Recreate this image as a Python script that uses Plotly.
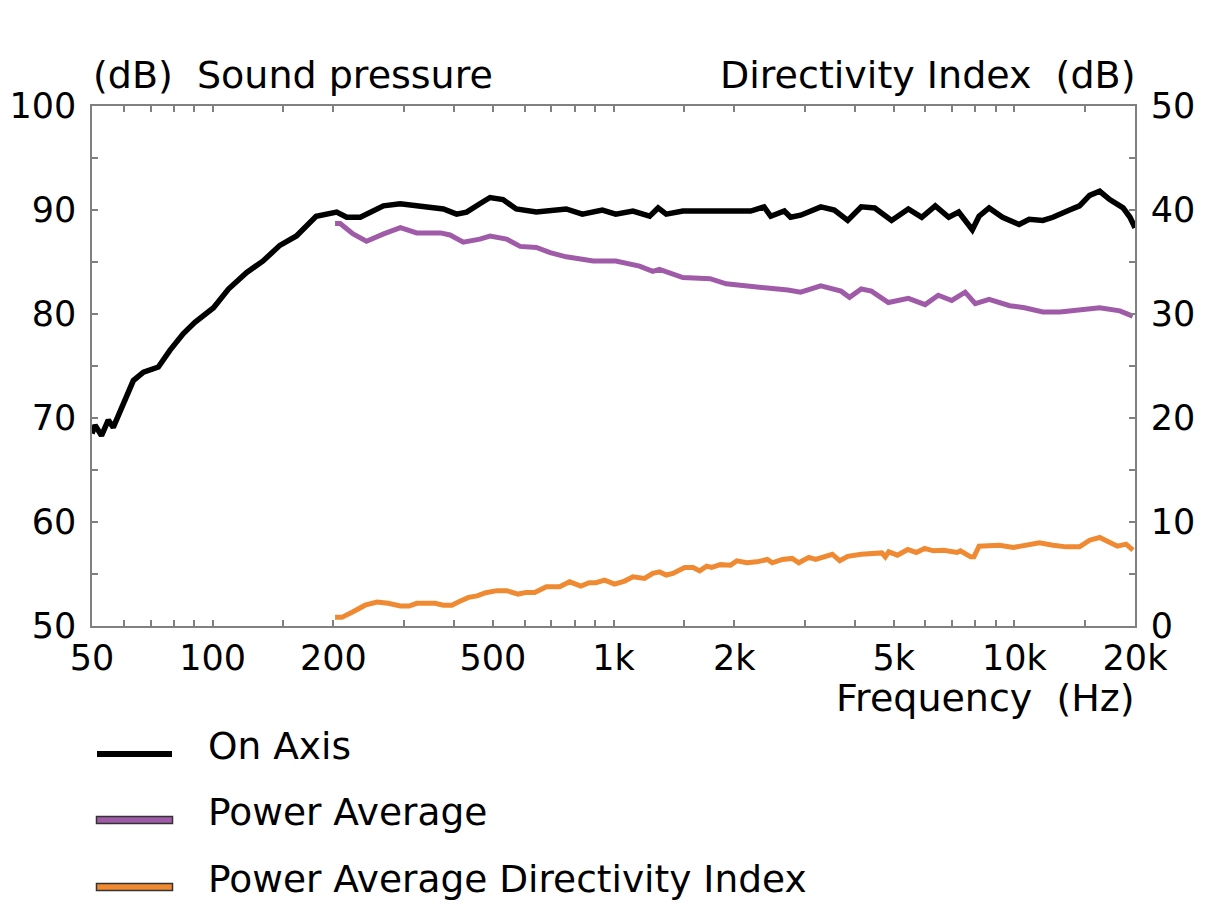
import plotly.graph_objects as go

# ---------------- data ----------------
freq_on = [50, 50.9, 52.8, 54.9, 56.5, 59.9, 63.4, 67.2, 73.2, 78.2, 84.4, 90.3, 100.5, 109.5,
           121.6, 133.6, 147.1, 161.8, 181.2, 203.9, 216, 233.5, 266.7, 293.6, 349, 376.5, 405.9,
           430, 464, 492, 530, 572, 642, 762, 836, 938, 1013, 1118, 1231, 1292, 1354, 1490, 1812,
           2199, 2375, 2468, 2668, 2766, 2930, 3105, 3290, 3555, 3840, 4150, 4485, 4940, 5440,
           5875, 6350, 6860, 7265, 7855, 8165, 8650, 9345, 10280, 10890, 11780, 12480, 13730,
           14540, 15410, 16330, 17300, 18680, 19430, 20000]
spl_on = [68.5, 69.3, 68.3, 69.8, 69.1, 71.4, 73.6, 74.4, 74.9, 76.5, 78.1, 79.2, 80.6, 82.4,
          84.0, 85.1, 86.6, 87.5, 89.4, 89.8, 89.3, 89.3, 90.4, 90.6, 90.3, 90.1, 89.6,
          89.8, 90.6, 91.2, 91.0, 90.1, 89.8, 90.1, 89.6, 90.0, 89.6, 89.9, 89.4, 90.2, 89.6, 89.9, 89.9,
          89.9, 90.3, 89.4, 89.9, 89.3, 89.5, 89.9, 90.3, 90.0, 89.0, 90.3, 90.2, 89.0, 90.1,
          89.3, 90.4, 89.3, 89.8, 88.1, 89.4, 90.2, 89.3, 88.6, 89.1, 89.0, 89.3, 90.0,
          90.4, 91.4, 91.8, 91.0, 90.2, 89.3, 88.3]

freq_pw = [202, 208, 224, 242, 267, 294, 323, 370, 391, 422, 464, 492, 541, 585, 642, 695, 762,
           890, 1013, 1161, 1253, 1302, 1490, 1741, 1911, 2199, 2420, 2723, 2930, 3290, 3695,
           3880, 4150, 4400, 4850, 5440, 5990, 6460, 6980, 7540, 7990, 8650, 9740, 10600, 11780,
           13000, 14540, 16330, 18330, 19740]
spl_pw = [88.7, 88.7, 87.7, 87.0, 87.7, 88.3, 87.8, 87.8, 87.6, 86.9, 87.2, 87.5, 87.2, 86.5, 86.4, 85.9, 85.5,
          85.1, 85.1, 84.6, 84.1, 84.3, 83.5, 83.4, 82.9, 82.6, 82.5, 82.3, 82.1, 82.7, 82.2,
          81.6, 82.4, 82.2, 81.1, 81.5, 80.9, 81.8, 81.3, 82.1, 81.0, 81.4, 80.8, 80.6, 80.2,
          80.2, 80.4, 80.6, 80.3, 79.8]

freq_di = [202, 210, 224, 240, 257, 274, 294, 309, 323, 359, 376, 395, 415, 435, 457, 480, 512,
           541, 578, 606, 636, 680, 734, 777, 829, 870, 904, 950, 1006, 1066, 1118, 1195, 1253,
           1302, 1354, 1406, 1505, 1580, 1641, 1707, 1758, 1847, 1959, 2032, 2150, 2277, 2420,
           2490, 2638, 2790, 2900, 3070, 3195, 3350, 3515, 3668, 3840, 4150, 4670, 4765, 4860,
           5110, 5420, 5690, 5975, 6280, 6660, 7200, 7340, 7780, 7930, 8165, 8650, 9175, 9940,
           10600, 11550, 12480, 13480, 14540, 15410, 16330, 17300, 18080, 19000, 19770]
di_pw = [0.83, 0.83, 1.37, 2.0, 2.3, 2.18, 1.92, 1.92, 2.18, 2.18, 2.0, 2.0, 2.4, 2.75, 2.9, 3.2, 3.4,
         3.4, 3.07, 3.23, 3.23, 3.77, 3.77, 4.25, 3.84, 4.16, 4.16, 4.41, 4.03, 4.32, 4.73, 4.58, 5.06,
         5.2, 4.9, 5.06, 5.63, 5.63, 5.3, 5.76, 5.63, 5.9, 5.85, 6.27, 6.08, 6.17, 6.4,
         6.08, 6.4, 6.5, 6.08, 6.6, 6.4, 6.7, 6.9, 6.27, 6.7, 6.9, 7.03, 6.65, 7.13,
         6.81, 7.36, 7.07, 7.46, 7.23, 7.29, 7.07, 7.23, 6.65, 6.65, 7.68, 7.68, 7.77, 7.55,
         7.77, 8.0, 7.77, 7.61, 7.61, 8.25, 8.51, 8.0, 7.68, 7.87, 7.29]

x_tickvals = [50, 60, 70, 80, 90, 100, 150, 200, 300, 400, 500, 600, 700, 800, 900, 1000,
              1500, 2000, 3000, 4000, 5000, 6000, 7000, 8000, 9000, 10000, 15000, 20000]
x_ticktext = ["50", "", "", "", "", "100", "", "200", "", "", "500", "", "", "", "", "1k",
              "", "2k", "", "", "5k", "", "", "", "", "10k", "", "20k"]
y_tickvals = [50, 55, 60, 65, 70, 75, 80, 85, 90, 95, 100]
y_ticktext = ["50", "", "60", "", "70", "", "80", "", "90", "", "100"]
y2_tickvals = [0, 5, 10, 15, 20, 25, 30, 35, 40, 45, 50]
y2_ticktext = ["0", "", "10", "", "20", "", "30", "", "40", "", "50"]

series_names = ["On Axis", "Power Average", "Power Average Directivity Index"]

# ---------------- style ----------------
C_ON = "#000000"
C_PW = "#A05BA8"
C_DI = "#F08A32"
AX = "#808080"
FONT = "DejaVu Sans"
OFF = 8                      # page body margin
W, H = 1208 - OFF, 915 - OFF
L, R, T, B = 92, 1135, 106, 626   # plot area in screen pixels


def px(xp):
    return (xp - L) / (R - L)


def py(yp):
    return (B - yp) / (B - T)


fig = go.Figure()
fig.add_trace(go.Scatter(x=freq_di, y=di_pw, yaxis="y2", mode="lines",
                         line=dict(color=C_DI, width=5), name=series_names[2]))
fig.add_trace(go.Scatter(x=freq_pw, y=spl_pw, mode="lines",
                         line=dict(color=C_PW, width=5), name=series_names[1]))
fig.add_trace(go.Scatter(x=freq_on, y=spl_on, mode="lines",
                         line=dict(color=C_ON, width=5.5), name=series_names[0]))

axis_common = dict(showgrid=False, zeroline=False, ticks="inside", ticklen=6,
                   tickcolor=AX, tickwidth=1.5, automargin=False,
                   tickfont=dict(family=FONT, size=35, color="black"))

fig.update_layout(
    width=W, height=H,
    margin=dict(l=L - OFF, r=W - (R - OFF), t=T - OFF, b=H - (B - OFF), pad=0),
    paper_bgcolor="white", plot_bgcolor="white",
    showlegend=False,
    font=dict(family=FONT, color="black"),
    xaxis=dict(type="log", range=[1.69897, 4.30103], tickvals=x_tickvals, ticktext=x_ticktext,
               showline=True, linecolor=AX, linewidth=1.5, mirror="ticks", **axis_common),
    yaxis=dict(range=[50, 100], tickvals=y_tickvals, ticktext=y_ticktext, ticklabelstandoff=7,
               showline=True, linecolor=AX, linewidth=1.5, mirror="ticks", **axis_common),
    yaxis2=dict(range=[0, 50], tickvals=y2_tickvals, ticktext=y2_ticktext, overlaying="y",
                ticklabelstandoff=7,
                side="right", showline=True, linecolor=AX, linewidth=1.5, **axis_common),
)

title_font = dict(family=FONT, size=38, color="black")
legend_font = dict(family=FONT, size=37.5, color="black")
# axis titles
fig.add_annotation(text="(dB)  Sound pressure", xref="paper", yref="paper",
                   x=px(91), y=py(75), xanchor="left", yanchor="middle", showarrow=False,
                   font=title_font)
fig.add_annotation(text="Directivity Index  (dB)", xref="paper", yref="paper",
                   x=px(1137), y=py(75), xanchor="right", yanchor="middle", showarrow=False,
                   font=title_font)
fig.add_annotation(text="Frequency  (Hz)", xref="paper", yref="paper",
                   x=px(1137), y=py(698), xanchor="right", yanchor="middle", showarrow=False,
                   font=title_font)

# manual legend
leg_y = [754, 820, 887]
text_y = [746, 812, 879]
fig.add_shape(type="line", xref="paper", yref="paper", x0=px(97), x1=px(172),
              y0=py(leg_y[0]), y1=py(leg_y[0]), line=dict(color=C_ON, width=6))
for c, yy in [(C_PW, leg_y[1]), (C_DI, leg_y[2])]:
    fig.add_shape(type="rect", xref="paper", yref="paper", x0=px(96.5), x1=px(172.5),
                  y0=py(yy - 3.5), y1=py(yy + 3.5), fillcolor=c,
                  line=dict(color="#333333", width=1.5))
for name, ty in zip(series_names, text_y):
    fig.add_annotation(text=name, xref="paper", yref="paper", x=px(206), y=py(ty),
                       xanchor="left", yanchor="middle", showarrow=False,
                       font=legend_font)

fig.write_html("out.html")
